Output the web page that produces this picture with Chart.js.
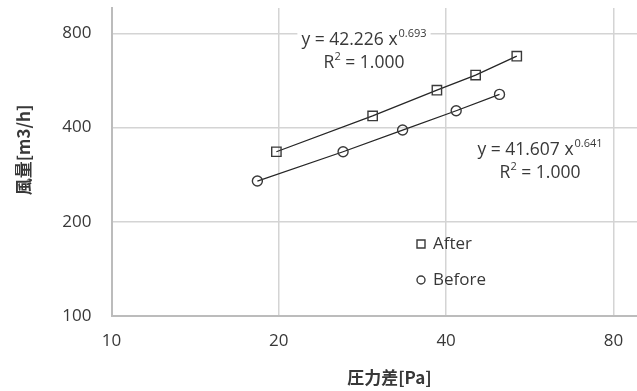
<!DOCTYPE html>
<html>
<head>
<meta charset="utf-8">
<script src="https://cdn.jsdelivr.net/npm/chart.js@4/dist/chart.umd.min.js"></script>
<style>
  html, body { margin: 0; padding: 0; background: #ffffff; overflow: hidden; }
  #wrap { width: 637px; height: 391px; overflow: hidden; position: relative; }
  canvas { display: block; }
</style>
</head>
<body>
<div id="wrap"><canvas id="chart" width="680" height="391"></canvas></div>
<script>
// Measured airflow vs. pressure difference, before and after the change
const seriesNames = ['After', 'Before'];
const pressureAfter = [19.8, 29.5, 38.5, 45.2, 53.6];
const flowAfter = [335, 436, 527, 589, 677];
const pressureBefore = [18.3, 26.1, 33.4, 41.7, 49.9];
const flowBefore = [270, 335, 393, 453, 511];

// Power-law fit results shown next to each series
const fitCoef = [42.226, 41.607];
const fitExp = [0.693, 0.641];
const fitR2 = [1.000, 1.000];

const xTickValues = [10, 20, 40, 80];
const yTickValues = [100, 200, 400, 800];
const xTitle = '圧力差[Pa]';
const yTitle = '風量[m3/h]';

const TEXT = '#383838';
const LATIN = '"Open Sans", "Liberation Sans", sans-serif';
const CJK = '"Noto Sans CJK JP", "Noto Sans", sans-serif';
const MAIN_SIZE = 17.5;
const SUP_SIZE = 11;

function toPoints(xs, ys) {
  return xs.map((x, i) => ({ x: x, y: ys[i] }));
}

// Axis titles, fit equations and the in-plot legend
const annotations = {
  id: 'annotations',
  afterDatasetsDraw(chart) {
    const ctx = chart.ctx;
    const area = chart.chartArea;
    ctx.save();

    // fit equation boxes
    const boxes = [
      { cx: 364, y1: 40, y2: 63 },
      { cx: 540, y1: 150, y2: 173 }
    ];
    boxes.forEach((b, i) => {
      const main = 'y = ' + fitCoef[i].toFixed(3) + ' x';
      const sup = fitExp[i].toFixed(3);
      const r2 = '= ' + fitR2[i].toFixed(3);
      ctx.font = MAIN_SIZE + 'px ' + LATIN;
      const wMain = ctx.measureText(main).width;
      ctx.font = SUP_SIZE + 'px ' + LATIN;
      const wSup = ctx.measureText(sup).width;
      const total = wMain + wSup + 1;
      ctx.fillStyle = '#ffffff';
      ctx.fillRect(b.cx - total / 2 - 4, b.y1 - 13, total + 8, b.y2 - b.y1 + 26);

      ctx.fillStyle = TEXT;
      ctx.textBaseline = 'middle';
      ctx.textAlign = 'left';
      const x0 = b.cx - total / 2;
      ctx.font = MAIN_SIZE + 'px ' + LATIN;
      ctx.fillText(main, x0, b.y1);
      ctx.font = SUP_SIZE + 'px ' + LATIN;
      ctx.fillText(sup, x0 + wMain + 1, b.y1 - 6);

      // R² line
      ctx.font = MAIN_SIZE + 'px ' + LATIN;
      const wR = ctx.measureText('R').width;
      ctx.font = SUP_SIZE + 'px ' + LATIN;
      const w2 = ctx.measureText('2').width;
      ctx.font = MAIN_SIZE + 'px ' + LATIN;
      const wRest = ctx.measureText(' ' + r2).width;
      const tot2 = wR + w2 + wRest;
      const x1 = b.cx - tot2 / 2;
      ctx.fillText('R', x1, b.y2);
      ctx.font = SUP_SIZE + 'px ' + LATIN;
      ctx.fillText('2', x1 + wR, b.y2 - 6);
      ctx.font = MAIN_SIZE + 'px ' + LATIN;
      ctx.fillText(' ' + r2, x1 + wR + w2, b.y2);
    });

    // legend
    const legendX = 421, legendRows = [244, 280];
    chart.data.datasets.forEach((ds, i) => {
      const y = legendRows[i];
      ctx.strokeStyle = '#3a3a3a';
      ctx.lineWidth = 1.4;
      ctx.beginPath();
      if (ds.pointStyle === 'rect') {
        ctx.rect(legendX - 4, y - 4, 8, 8);
      } else {
        ctx.arc(legendX, y, 4, 0, Math.PI * 2);
      }
      ctx.stroke();
      ctx.fillStyle = TEXT;
      ctx.font = '17px ' + LATIN;
      ctx.textAlign = 'left';
      ctx.textBaseline = 'middle';
      ctx.fillText(ds.label, legendX + 12, y);
    });

    // axis titles
    ctx.fillStyle = TEXT;
    ctx.font = 'bold 17px ' + CJK;
    ctx.textAlign = 'center';
    ctx.textBaseline = 'middle';
    ctx.fillText(xTitle, (area.left + area.right) / 2, 378);
    ctx.translate(24, 150);
    ctx.rotate(-Math.PI / 2);
    ctx.fillText(yTitle, 0, 0);
    ctx.restore();
  }
};

const gridStyle = { color: '#d4d4d4', lineWidth: 1.5, drawTicks: false };
const borderStyle = { display: true, color: '#bcbcbc', width: 2 };

new Chart(document.getElementById('chart'), {
  type: 'scatter',
  data: {
    datasets: [
      {
        label: seriesNames[0],
        data: toPoints(pressureAfter, flowAfter),
        showLine: true,
        borderColor: '#262626',
        borderWidth: 1.3,
        pointStyle: 'rect',
        pointRadius: 6.6,
        pointBorderColor: '#3a3a3a',
        pointBorderWidth: 1.4,
        pointBackgroundColor: 'rgba(0,0,0,0)',
        tension: 0
      },
      {
        label: seriesNames[1],
        data: toPoints(pressureBefore, flowBefore),
        showLine: true,
        borderColor: '#262626',
        borderWidth: 1.3,
        pointStyle: 'circle',
        pointRadius: 5,
        pointBorderColor: '#3a3a3a',
        pointBorderWidth: 1.4,
        pointBackgroundColor: 'rgba(0,0,0,0)',
        tension: 0
      }
    ]
  },
  options: {
    responsive: false,
    animation: false,
    layout: { padding: { top: 8, right: 12.7, left: 0, bottom: 0 } },
    plugins: { legend: { display: false }, tooltip: { enabled: false } },
    scales: {
      x: {
        type: 'logarithmic',
        min: 10,
        max: 100,
        afterBuildTicks: s => { s.ticks = xTickValues.map(v => ({ value: v })); },
        afterFit: s => { s.height = 75; s.paddingLeft = 0; s.paddingRight = 0; },
        grid: gridStyle,
        border: borderStyle,
        ticks: {
          padding: 15,
          color: TEXT,
          font: { family: LATIN, size: 17 },
          maxRotation: 0,
          callback: v => String(v)
        }
      },
      y: {
        type: 'logarithmic',
        min: 100,
        max: 965,
        afterBuildTicks: s => { s.ticks = yTickValues.map(v => ({ value: v })); },
        afterFit: s => { s.width = 111.5; s.paddingTop = 0; s.paddingBottom = 0; },
        grid: gridStyle,
        border: borderStyle,
        ticks: {
          padding: 20,
          color: TEXT,
          font: { family: LATIN, size: 17 },
          callback: v => String(v)
        }
      }
    }
  },
  plugins: [annotations]
});
</script>
</body>
</html>
